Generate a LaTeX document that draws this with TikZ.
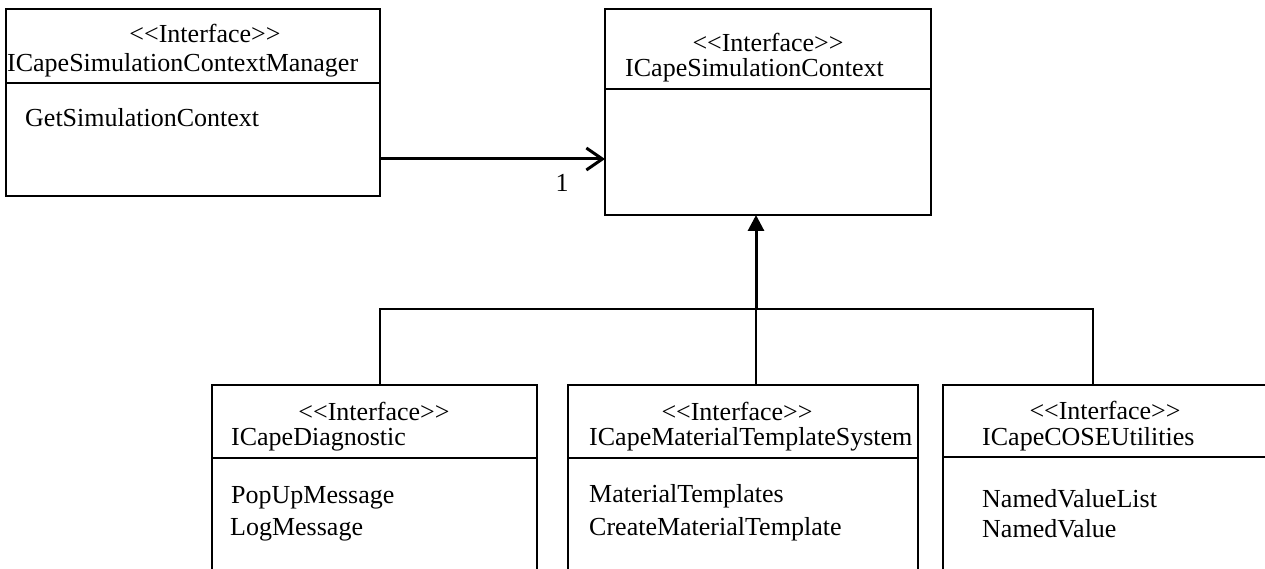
\documentclass[tikz,border=0pt]{standalone}
\usepackage{fontspec}
\setmainfont{Liberation Serif}
\usetikzlibrary{arrows.meta,calc}
% stereotype label; the kerns keep << and >> from turning into guillemets
\newcommand{\stereo}{<\kern0pt<Interface>\kern0pt>}

\begin{document}
\begin{tikzpicture}[x=1pt,y=-1pt,
  every node/.style={font=\fontsize{26}{30}\selectfont},
  umlbox/.style={draw,line width=1.6pt,rectangle,anchor=north west,inner sep=0pt,outer sep=0pt},
  txt/.style={inner sep=0pt,anchor=base west},
  stereotype/.style={inner sep=0pt,anchor=base},
  divider/.style={line width=1.6pt},
  link/.style={line width=1.6pt},
  assoc/.style={line width=3pt,-{Straight Barb[length=16pt,width=22pt,line width=3pt]}},
  gen/.style={line width=3pt,-{Triangle[length=16pt,width=16pt]}}]

\useasboundingbox (0,0) rectangle (1265,569);
\clip (0,0) rectangle (1265,569);

% class boxes
\node[umlbox,minimum width=374pt,minimum height=187pt] (mgr) at (6,9) {};
\node[umlbox,minimum width=326pt,minimum height=206pt] (ctx) at (605,9) {};
\node[umlbox,minimum width=325pt,minimum height=200pt] (diag) at (212,385) {};
\node[umlbox,minimum width=350pt,minimum height=200pt] (mts) at (568,385) {};
\node[umlbox,minimum width=340pt,minimum height=200pt] (cose) at (943,385) {};

% compartment dividers
\draw[divider] (mgr.west |- 0,83) -- (mgr.east |- 0,83);
\draw[divider] (ctx.west |- 0,89) -- (ctx.east |- 0,89);
\draw[divider] (diag.west |- 0,458) -- (diag.east |- 0,458);
\draw[divider] (mts.west |- 0,458) -- (mts.east |- 0,458);
\draw[divider] (cose.west |- 0,457) -- (cose.east |- 0,457);

% ICapeSimulationContextManager
\node[stereotype] (mgrS) at (205,43) {\stereo};
\node[txt] (mgrN) at (7,72) {ICapeSimulationContextManager};
\node[txt] (mgrO1) at (25,127) {GetSimulationContext};

% ICapeSimulationContext
\node[stereotype] (ctxS) at (768,52) {\stereo};
\node[txt] (ctxN) at (625,77) {ICapeSimulationContext};

% ICapeDiagnostic
\node[stereotype] (diagS) at (374,420) {\stereo};
\node[txt] (diagN) at (231,445) {ICapeDiagnostic};
\node[txt] (diagO1) at (231,503) {PopUpMessage};
\node[txt] (diagO2) at (230,535) {LogMessage};

% ICapeMaterialTemplateSystem
\node[stereotype] (mtsS) at (737,420) {\stereo};
\node[txt] (mtsN) at (589,445) {ICapeMaterialTemplateSystem};
\node[txt] (mtsO1) at (589,502) {MaterialTemplates};
\node[txt] (mtsO2) at (589,535) {CreateMaterialTemplate};

% ICapeCOSEUtilities
\node[stereotype] (coseS) at (1105,419) {\stereo};
\node[txt] (coseN) at (982,445) {ICapeCOSEUtilities};
\node[txt] (coseO1) at (982,507) {NamedValueList};
\node[txt] (coseO2) at (982,537) {NamedValue};

% association with multiplicity
\draw[assoc] ($(mgr.south east)+(0,-37)$) coordinate (a0) -- (a0 -| ctx.west);
\node[stereotype] (mult) at (562,192) {1};

% generalisation tree
\coordinate (j1) at (380,309);
\coordinate (j2) at (756,309);
\coordinate (j3) at (1093,309);
\draw[link] (j1 |- diag.north) -- (j1) -- (j3) -- (j3 |- cose.north);
\draw[link] (j2) -- (j2 |- mts.north);
\draw[gen] (j2) -- (j2 |- ctx.south);
\end{tikzpicture}
\end{document}
